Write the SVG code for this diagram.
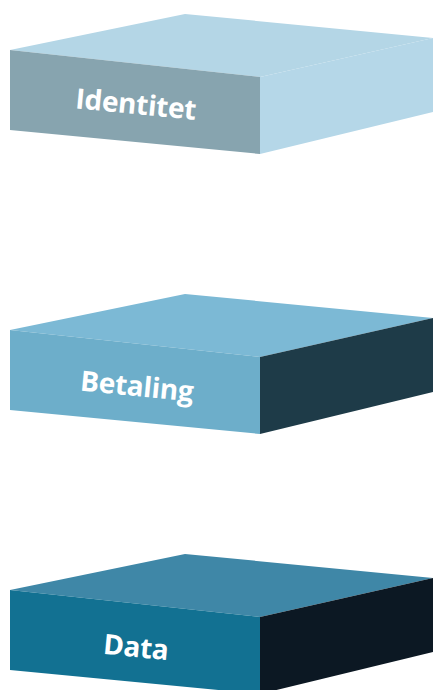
<svg xmlns="http://www.w3.org/2000/svg" width="433" height="690" viewBox="0 0 433 690">
  <style>
    .lbl { font-family: "Open Sans", "Noto Sans", "DejaVu Sans", sans-serif; font-weight: 700; font-size: 28px; fill: #ffffff; text-anchor: middle; letter-spacing: -0.3px; }
  </style>
  <defs>
    <polygon id="topFace" points="10,50 185,14 433,38 260,77"/>
    <polygon id="frontFace" points="10,50 260,77 260,154 10,130"/>
    <polygon id="rightFace" points="260,77 433,38 433,112 260,154"/>
  </defs>
  <rect width="433" height="690" fill="#ffffff"/>
  <g id="identitet">
    <use href="#topFace" fill="#b4d6e6"/>
    <use href="#rightFace" fill="#b5d7e8"/>
    <use href="#frontFace" fill="#87a4af"/>
    <text class="lbl" x="135" y="114" transform="rotate(5.5 135 114)">Identitet</text>
  </g>
  <g id="betaling" transform="translate(0,280)">
    <use href="#topFace" fill="#7cb9d5"/>
    <use href="#rightFace" fill="#1e3b48"/>
    <use href="#frontFace" fill="#6daeca"/>
    <text class="lbl" x="136" y="116" transform="rotate(5.5 136 116)">Betaling</text>
  </g>
  <g id="data" transform="translate(0,540)">
    <use href="#topFace" fill="#3f87a7"/>
    <use href="#rightFace" fill="#0c1823"/>
    <use href="#frontFace" fill="#127192"/>
    <text class="lbl" x="135" y="117" transform="rotate(5.5 135 117)">Data</text>
  </g>
  <g id="connectors"/>
</svg>
